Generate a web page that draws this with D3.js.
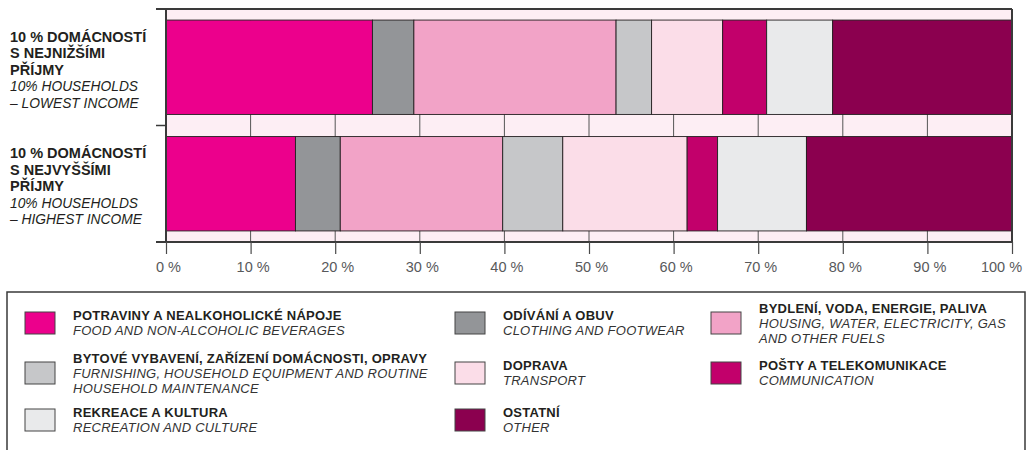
<!DOCTYPE html>
<html>
<head>
<meta charset="utf-8">
<script src="https://cdn.jsdelivr.net/npm/d3@7"></script>
<style>
  body { margin: 0; background: #fff; }
  svg { display: block; font-family: "Liberation Sans", Arial, sans-serif; }
</style>
</head>
<body>
<svg id="chart" width="1030" height="450"></svg>
<script>
// categories in stacking order
const categories = ["food", "clothing", "housing", "furnishing", "transport", "communication", "recreation", "other"];
const colors = ["#ec008c", "#939598", "#f2a3c7", "#c6c7c9", "#fbdde8", "#c2006b", "#e9eaeb", "#8b004f"];

const legendCz = [
    "POTRAVINY A NEALKOHOLICKÉ NÁPOJE",
    "ODÍVÁNÍ A OBUV",
    "BYDLENÍ, VODA, ENERGIE, PALIVA",
    "BYTOVÉ VYBAVENÍ, ZAŘÍZENÍ DOMÁCNOSTI, OPRAVY",
    "DOPRAVA",
    "POŠTY A TELEKOMUNIKACE",
    "REKREACE A KULTURA",
    "OSTATNÍ"
];
const legendEn = [
    ["FOOD AND NON-ALCOHOLIC BEVERAGES"],
    ["CLOTHING AND FOOTWEAR"],
    ["HOUSING, WATER, ELECTRICITY, GAS", "AND OTHER FUELS"],
    ["FURNISHING, HOUSEHOLD EQUIPMENT AND ROUTINE", "HOUSEHOLD MAINTENANCE"],
    ["TRANSPORT"],
    ["COMMUNICATION"],
    ["RECREATION AND CULTURE"],
    ["OTHER"]
];

// groups (rows of the chart)
const groups = ["lowest", "highest"];
const groupCz = [["10 % DOMÁCNOSTÍ", "S NEJNIŽŠÍMI", "PŘÍJMY"], ["10 % DOMÁCNOSTÍ", "S NEJVYŠŠÍMI", "PŘÍJMY"]];
const groupEn = [["10% HOUSEHOLDS", "– LOWEST INCOME"], ["10% HOUSEHOLDS", "– HIGHEST INCOME"]];

// shares of expenditure, %
const lowestIncome = [24.4, 4.9, 23.9, 4.2, 8.4, 5.2, 7.8, 21.2];
const highestIncome = [15.3, 5.3, 19.2, 7.1, 14.7, 3.6, 10.5, 24.3];

const xTicks = [0, 10, 20, 30, 40, 50, 60, 70, 80, 90, 100];

const DARK = "#231f20";
const PLOT_L = 166, PLOT_R = 1012, PLOT_T = 9, PLOT_B = 242;

const svg = d3.select("#chart");
const g = svg.append("g");

const rows = groups.map((grp, i) => {
    const vals = i === 0 ? lowestIncome : highestIncome;
    const r = { group: grp };
    categories.forEach((c, j) => r[c] = vals[j]);
    return r;
});
const series = d3.stack().keys(categories)(rows);

const x = d3.scaleLinear().domain([0, 100]).range([PLOT_L, PLOT_R]);
const y = d3.scaleBand().domain(groups).range([PLOT_T, PLOT_B])
    .paddingInner(0.19).paddingOuter(0.095);
const color = d3.scaleOrdinal().domain(categories).range(colors);

// background
g.append("rect")
    .attr("x", PLOT_L).attr("y", PLOT_T)
    .attr("width", PLOT_R - PLOT_L).attr("height", PLOT_B - PLOT_T)
    .attr("fill", "#fdeef4");

// grid lines (only visible between bars)
g.selectAll(".grid")
    .data(xTicks.slice(1, -1))
    .join("line")
    .attr("x1", d => x(d)).attr("x2", d => x(d))
    .attr("y1", y(groups[0])).attr("y2", PLOT_B)
    .attr("stroke", "#555").attr("stroke-width", 1);

// bars
g.selectAll(".layer")
    .data(series)
    .join("g")
    .attr("fill", d => color(d.key))
    .selectAll("rect")
    .data(d => d)
    .join("rect")
    .attr("x", d => x(d[0]))
    .attr("y", d => y(d.data.group))
    .attr("width", d => x(d[1]) - x(d[0]))
    .attr("height", y.bandwidth())
    .attr("stroke", DARK)
    .attr("stroke-width", 0.9);

// frame: band boundary lines reaching out to the left, right border, left axis
const bounds = [PLOT_T, (y(groups[0]) + y.bandwidth() + y(groups[1])) / 2, PLOT_B];
g.selectAll(".bound")
    .data([bounds[0], bounds[2]])
    .join("line")
    .attr("x1", PLOT_L - 10).attr("x2", PLOT_R)
    .attr("y1", d => d).attr("y2", d => d)
    .attr("stroke", "#3a3a3a").attr("stroke-width", 2);
g.append("line")
    .attr("x1", PLOT_L - 10).attr("x2", PLOT_L)
    .attr("y1", bounds[1]).attr("y2", bounds[1])
    .attr("stroke", "#3a3a3a").attr("stroke-width", 1.5);
g.append("line")
    .attr("x1", PLOT_R).attr("x2", PLOT_R)
    .attr("y1", PLOT_T).attr("y2", PLOT_B)
    .attr("stroke", "#3a3a3a").attr("stroke-width", 2);
g.append("line")
    .attr("x1", PLOT_L).attr("x2", PLOT_L)
    .attr("y1", PLOT_T - 1).attr("y2", PLOT_B)
    .attr("stroke", "#3a3a3a").attr("stroke-width", 2);

// x axis
const xAxis = g.append("g")
    .attr("transform", `translate(0,${PLOT_B})`)
    .call(d3.axisBottom(x).tickValues(xTicks).tickSize(12).tickSizeOuter(0)
        .tickFormat(d => d + " %"));
xAxis.select(".domain").remove();
xAxis.selectAll(".tick line").attr("stroke", "#4a4a4a").attr("stroke-width", 1.2);
xAxis.selectAll(".tick text")
    .attr("y", 30).attr("dy", 0)
    .attr("dx", d => d === 100 ? -11 : 2)
    .attr("fill", "#58595b")
    .attr("font-size", 14.5)
    .attr("font-family", "Liberation Sans, Arial, sans-serif");

// group labels
groups.forEach((grp, i) => {
    const cy = y(grp) + y.bandwidth() / 2;
    const t = g.append("text").attr("x", 10).attr("y", cy - 25.5)
        .attr("font-size", 14.5).attr("fill", DARK);
    groupCz[i].forEach((line, k) => {
        t.append("tspan").attr("x", 10).attr("dy", k === 0 ? 0 : 16.5)
            .attr("font-weight", "bold").text(line);
    });
    groupEn[i].forEach(line => {
        t.append("tspan").attr("x", 10).attr("dy", 16.5)
            .attr("font-size", 13.8)
            .attr("font-style", "italic").text(line);
    });
});

// legend
const legend = svg.append("g");
legend.append("path")
    .attr("d", "M7,460 V292 H1025 V460")
    .attr("fill", "none").attr("stroke", "#3a3a3a").attr("stroke-width", 1.5);

const colSwatch = [25, 455, 711];
const colText = [73, 503, 759];
const rowCenter = [323, 373, 420];
const LH = 15, CAP = 9;

categories.forEach((c, i) => {
    const col = i % 3, row = Math.floor(i / 3);
    const cy = rowCenter[row];
    legend.append("rect")
        .attr("x", colSwatch[col]).attr("y", cy - 11)
        .attr("width", 30).attr("height", 22)
        .attr("fill", color(c)).attr("stroke", "#444").attr("stroke-width", 1);
    const n = 1 + legendEn[i].length;
    const y0 = cy - ((n - 1) * LH + CAP) / 2 + CAP;
    const t = legend.append("text").attr("x", colText[col]).attr("y", y0)
        .attr("font-size", 13).attr("letter-spacing", 0.25);
    t.append("tspan").attr("x", colText[col]).attr("dy", 0)
        .attr("font-weight", "bold").attr("fill", DARK).text(legendCz[i]);
    legendEn[i].forEach(line => {
        t.append("tspan").attr("x", colText[col]).attr("dy", LH)
            .attr("font-style", "italic").attr("fill", "#333").text(line);
    });
});
</script>
</body>
</html>
